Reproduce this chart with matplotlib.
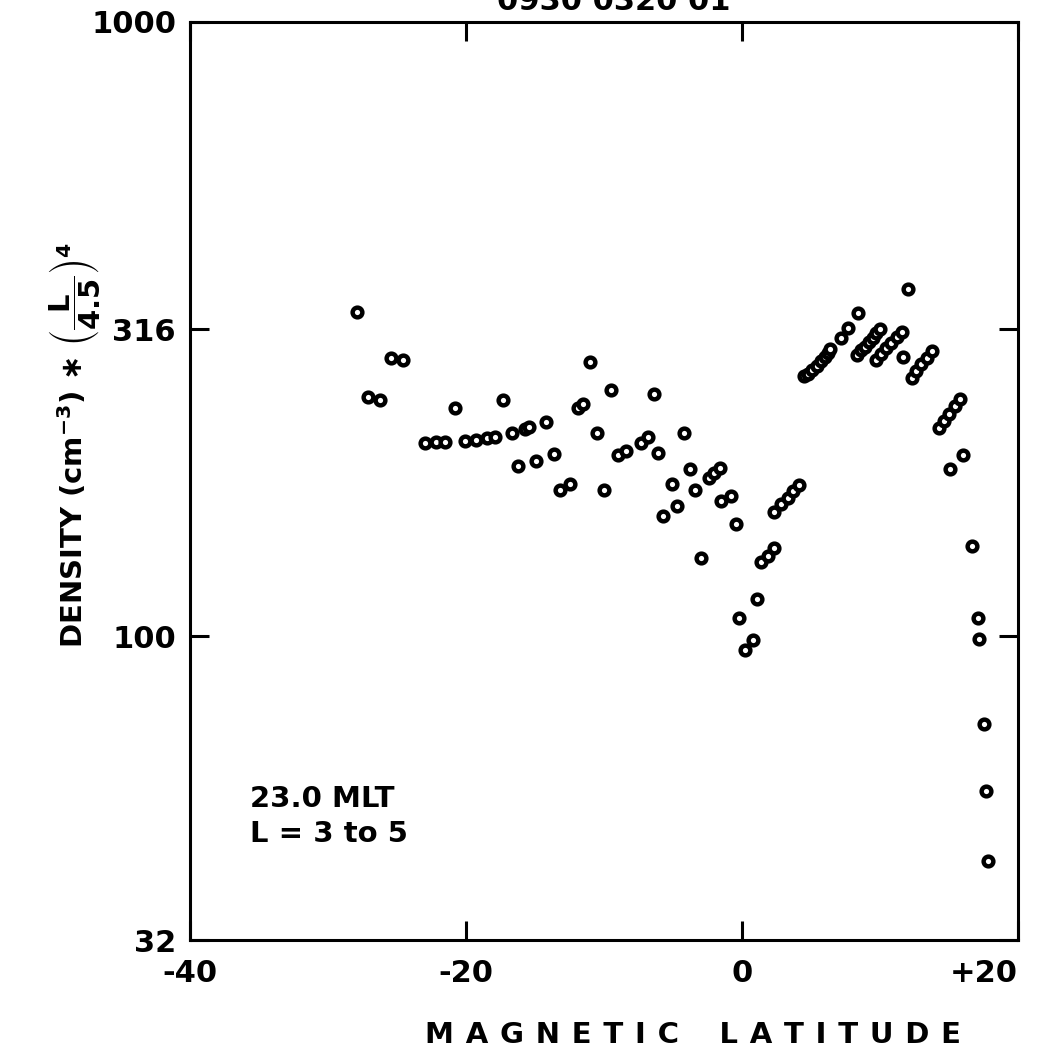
import matplotlib
matplotlib.use("Agg")
import matplotlib.pyplot as plt
from matplotlib.ticker import FixedLocator, NullLocator

plt.rcParams['font.family'] = ['DejaVu Sans']
plt.rcParams['mathtext.default'] = 'bf'

# southern hemisphere / equator passes
lat_s = [-27.9, -25.4, -24.6, -27.1, -26.2, -23.0, -22.2, -21.5, -20.8, -20.1,
         -19.3, -18.5, -17.9, -17.3, -16.7, -15.7, -15.4, -14.2, -11.9, -11.5,
         -11.0, -9.5, -10.5, -9.0, -16.2, -14.9, -13.6, -13.2, -12.5, -10.0,
         -6.4, -8.4, -7.3, -6.8, -4.2, -6.1, -3.8, -5.1, -3.4, -4.7,
         -5.7, -2.4, -2.0, -1.6, -1.5, -0.8, -0.4, -3.0, -0.2, 0.2, 0.8]
dens_s = [337, 284, 282, 245, 242, 206, 207, 207, 235, 208,
          209, 210, 211, 242, 214, 217, 219, 223, 235, 239,
          279, 252, 214, 197, 189, 193, 198, 173, 177, 173,
          248, 200, 206, 211, 214, 199, 187, 177, 173, 163,
          157, 181, 184, 188, 166, 169, 152, 134, 107, 95, 98.5]

# northern side
lat_n = [1.1, 1.4, 1.9, 2.3, 2.3, 2.8, 3.3, 3.7, 4.1,
         4.5, 4.8, 5.1, 5.4, 5.7, 6.0, 6.2, 6.4, 7.2, 7.7, 8.4,
         8.3, 8.6, 8.9, 9.2, 9.5, 9.7, 10.0,
         9.7, 10.1, 10.4, 10.8, 11.2, 11.6, 12.0, 11.7,
         12.3, 12.6, 13.0, 13.4, 13.8,
         14.3, 14.6, 15.0, 15.4, 15.8, 16.0, 15.1,
         16.7, 17.1, 17.2, 17.5, 17.7, 17.8]
dens_n = [115, 132, 135, 139, 159, 164, 168, 172, 176,
          265, 267, 271, 275, 280, 285, 289, 293, 306, 318, 336,
          287, 292, 296, 301, 306, 311, 316,
          282, 288, 294, 300, 307, 313, 367, 285,
          263, 270, 277, 284, 291,
          218, 224, 230, 237, 243, 197, 187,
          140, 107, 99, 72, 56, 43]

xticks = [-40, -20, 0, 20]
xticklabels = ['-40', '-20', '0', '+20']
yticks = [32, 100, 316, 1000]
yticklabels = ['32', '100', '316', '1000']

fig = plt.figure(figsize=(10.48, 10.61), dpi=100)
ax = fig.add_axes([0.1813, 0.1140, 0.7901, 0.8653])

mk = dict(ls='none', marker='o', ms=7.0, mfc='white', mec='black', mew=3.2)
ax.plot(lat_s, dens_s, **mk)
ax.plot(lat_n, dens_n, **mk)

ax.set_yscale('log')
ax.set_xlim(-40, 20)
ax.set_ylim(32, 1000)
ax.xaxis.set_major_locator(FixedLocator(xticks))
ax.yaxis.set_major_locator(FixedLocator(yticks))
ax.xaxis.set_minor_locator(NullLocator())
ax.yaxis.set_minor_locator(NullLocator())
ax.set_xticklabels(xticklabels)
ax.set_yticklabels(yticklabels)

for s in ax.spines.values():
    s.set_linewidth(2.2)
ax.tick_params(which='major', direction='in', length=14, width=2.2,
               top=True, right=True, labelsize=22)
ax.tick_params(axis='x', pad=14)
ax.tick_params(axis='y', pad=10)
for lab in ax.get_xticklabels() + ax.get_yticklabels():
    lab.set_fontweight('bold')
xl = ax.get_xticklabels()
xl[-1].set_ha('right')

ax.text(0.072, 0.10, '23.0 MLT\nL = 3 to 5', transform=ax.transAxes,
        fontsize=21, fontweight='bold', va='bottom', ha='left', linespacing=1.35)

sp = '\u2009\u2009'
xlab = sp.join('MAGNETIC') + '    ' + sp.join('LATITUDE')
fig.text(693 / 1048, 1 - 1035 / 1061, xlab, fontsize=21, fontweight='bold',
         ha='center', va='center')

fig.text(75 / 1048, 1 - 445 / 1061,
         r'DENSITY (cm$^{-3}$) $\ast$ $\left(\dfrac{L}{4.5}\right)^{4}$',
         rotation=90, fontsize=21, fontweight='bold', ha='center', va='center')

# header line, mostly cut off at the top edge like the scan
fig.text(497 / 1048, 1 - 1 / 1061, '0930 0320 01', fontsize=22,
         fontweight='bold', ha='left', va='center')

fig.savefig('out.png', dpi=100)
